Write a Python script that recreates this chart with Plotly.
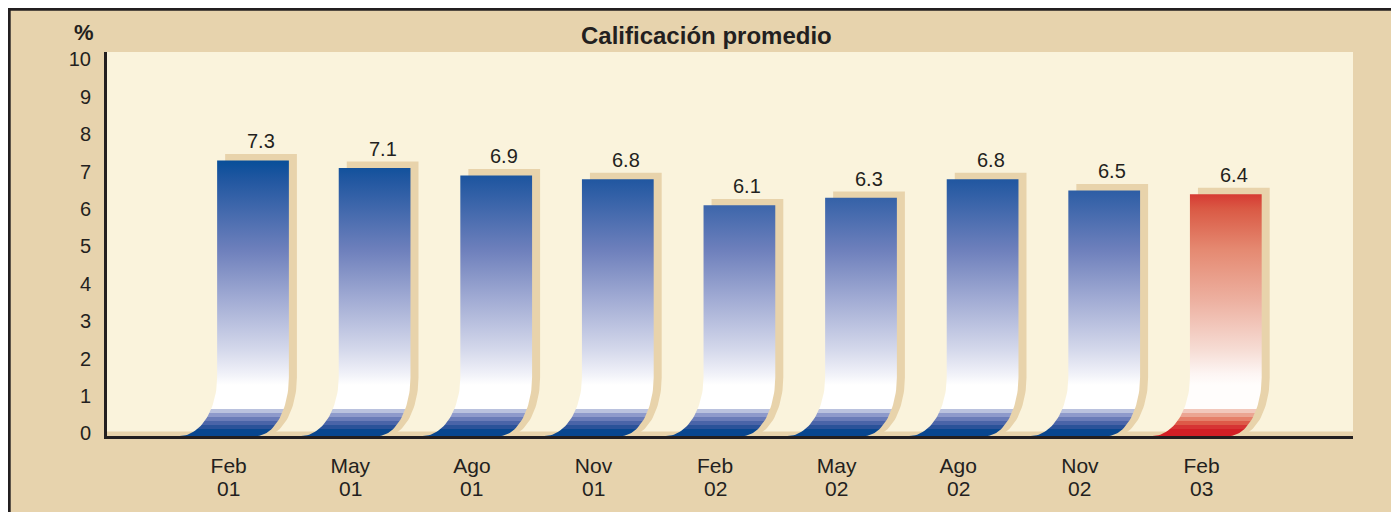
import numpy as np
import plotly.graph_objects as go

# ---------------- data ----------------
months = ["Feb", "May", "Ago", "Nov", "Feb", "May", "Ago", "Nov", "Feb"]
years = ["01", "01", "01", "01", "02", "02", "02", "02", "03"]
values = [7.3, 7.1, 6.9, 6.8, 6.1, 6.3, 6.8, 6.5, 6.4]
highlight = [False, False, False, False, False, False, False, False, True]
y_ticks = [0, 1, 2, 3, 4, 5, 6, 7, 8, 9, 10]
title_text = "Calificación promedio"
unit_text = "%"

# ---------------- style ----------------
OFF = 8                      # browser body margin (page px -> figure px)
W, H = 1399 - OFF, 512 - OFF
ML, MR, MT, MB = 99, 46, 44, 76
PW, PH = W - ML - MR, H - MT - MB
XR = [-1.2007, 9.046]
YR = [-0.067, 10.2]
BASE = YR[0]
HALF_W = 0.295
SHIFT_L = 0.31
SHIFT_R = 0.27
CURL_H = 1.5
SH_DX = 0.066
SH_DY = 0.17
TAN = "#E7D3AD"
SHADOW = "#E8D3AB"
CREAM = "#FAF3DC"
INK = "#231F20"
FONT = "Liberation Sans, Arial, sans-serif"
G_STOP = 7.45

blue_stops = [(BASE, "#08468F"), (0.108, "#08468F"), (0.108, "#2A5299"), (0.216, "#2A5299"),
              (0.216, "#4A64A8"), (0.324, "#4A64A8"), (0.324, "#6A7CB8"), (0.432, "#6A7CB8"),
              (0.432, "#8E9ACB"), (0.54, "#8E9ACB"), (0.54, "#BAC2DE"), (0.65, "#BAC2DE"),
              (0.65, "#FFFFFF"), (1.3, "#FFFFFF"), (1.6, "#F0F1F8"), (2.24, "#D4D8EB"),
              (3.57, "#A2ACD4"), (4.9, "#6E80BC"), (6.83, "#1F56A0"), (G_STOP, "#004C97")]
red_stops = [(BASE, "#D21F26"), (0.108, "#D21F26"), (0.108, "#D63434"), (0.216, "#D63434"),
             (0.216, "#DD5A48"), (0.324, "#DD5A48"), (0.324, "#E5806A"), (0.432, "#E5806A"),
             (0.432, "#EBA592"), (0.54, "#EBA592"), (0.54, "#F2C8BC"), (0.65, "#F2C8BC"),
             (0.65, "#FFFDFC"), (1.3, "#FFFDFC"), (1.6, "#FDF5F3"), (2.24, "#F6DCD4"),
             (3.57, "#EDB0A0"), (4.9, "#E58A72"), (6.0, "#DA5A45"), (6.6, "#D42A2A"),
             (G_STOP, "#D42A2A")]


def scale(stops):
    out = [[round((y - BASE) / (G_STOP - BASE), 6), c] for y, c in stops]
    out[0][0] = 0.0
    out[-1][0] = 1.0
    return out


def curl(x_top, shift, n=30):
    t = np.linspace(0, np.pi / 2, n)
    xs = x_top - shift + shift * np.cos(t)
    ys = CURL_H - (CURL_H - BASE) * np.sin(t)
    return xs, ys


def bar_poly(xc, top):
    xl, xr = xc - HALF_W, xc + HALF_W
    lx, ly = curl(xl, SHIFT_L)
    rx, ry = curl(xr, SHIFT_R)
    xs = list(lx[::-1]) + [xl, xr] + list(rx) + [lx[-1]]
    ys = list(ly[::-1]) + [top, top] + list(ry) + [ly[-1]]
    return xs, ys


fig = go.Figure()

idx = list(range(len(values)))
# shadows
for i, v in zip(idx, values):
    xs, ys = bar_poly(i + SH_DX, v + SH_DY)
    fig.add_trace(go.Scatter(x=xs, y=ys, mode="lines", fill="toself", fillcolor=SHADOW,
                             line=dict(width=0, color=SHADOW), hoverinfo="skip",
                             showlegend=False))
# fronts
for i, v, h in zip(idx, values, highlight):
    xs, ys = bar_poly(i, v)
    cs = scale(red_stops if h else blue_stops)
    fig.add_trace(go.Scatter(x=xs, y=ys, mode="lines", fill="toself",
                             fillgradient=dict(type="vertical", colorscale=cs,
                                               start=BASE, stop=G_STOP),
                             line=dict(width=0), hoverinfo="skip", showlegend=False))


def px_x(p):
    return (p - OFF - ML) / PW


def px_y(p):
    return (H - MB - (p - OFF)) / PH


ann = []
for i, v in zip(idx, values):
    ann.append(dict(x=i + SH_DX, y=v + SH_DY, xref="x", yref="y", text=f"{v:.1f}",
                    showarrow=False, yanchor="bottom", xanchor="center",
                    font=dict(family=FONT, size=20, color=INK)))
for i, yr in zip(idx, years):
    ann.append(dict(x=i - 0.2, y=px_y(488), xref="x", yref="paper", text=yr,
                    showarrow=False, yanchor="middle", xanchor="center",
                    font=dict(family=FONT, size=21, color=INK)))

ann.append(dict(x=px_x(706.5), y=px_y(35), xref="paper", yref="paper", text=f"<b>{title_text}</b>",
                showarrow=False, xanchor="center", yanchor="middle",
                font=dict(family=FONT, size=24, color=INK)))
ann.append(dict(x=px_x(84), y=px_y(32), xref="paper", yref="paper", text=f"<b>{unit_text}</b>",
                showarrow=False, xanchor="center", yanchor="middle",
                font=dict(family=FONT, size=22, color=INK)))

shapes = [
    dict(type="rect", xref="paper", yref="y", x0=0, x1=1, y0=BASE, y1=0.05,
         fillcolor=SHADOW, line=dict(width=0), layer="below"),
    dict(type="line", xref="paper", yref="paper", x0=px_x(OFF - 2), x1=px_x(1400), y0=px_y(9.3), y1=px_y(9.3),
         line=dict(color=INK, width=3), layer="above"),
    dict(type="line", xref="paper", yref="paper", x0=px_x(9.2), x1=px_x(9.2), y0=px_y(OFF - 2), y1=px_y(513),
         line=dict(color=INK, width=3), layer="above"),
]

fig.update_layout(
    width=W, height=H,
    margin=dict(l=ML, r=MR, t=MT, b=MB, pad=0),
    paper_bgcolor=TAN, plot_bgcolor=CREAM,
    font=dict(family=FONT, color=INK),
    showlegend=False,
    annotations=ann, shapes=shapes,
    xaxis=dict(range=XR, tickmode="array", tickvals=[i - 0.2 for i in idx], ticktext=months,
               showgrid=False, zeroline=False, showline=True, linecolor=INK, linewidth=3,
               ticks="outside", ticklen=9, tickcolor="rgba(0,0,0,0)",
               tickfont=dict(family=FONT, size=21, color=INK), fixedrange=True),
    yaxis=dict(range=YR, tickmode="array", tickvals=y_ticks,
               showgrid=False, zeroline=False, showline=True, linecolor=INK, linewidth=3,
               ticks="outside", ticklen=9, tickcolor="rgba(0,0,0,0)",
               tickfont=dict(family=FONT, size=20, color=INK), fixedrange=True),
)

fig.write_html("out.html")
